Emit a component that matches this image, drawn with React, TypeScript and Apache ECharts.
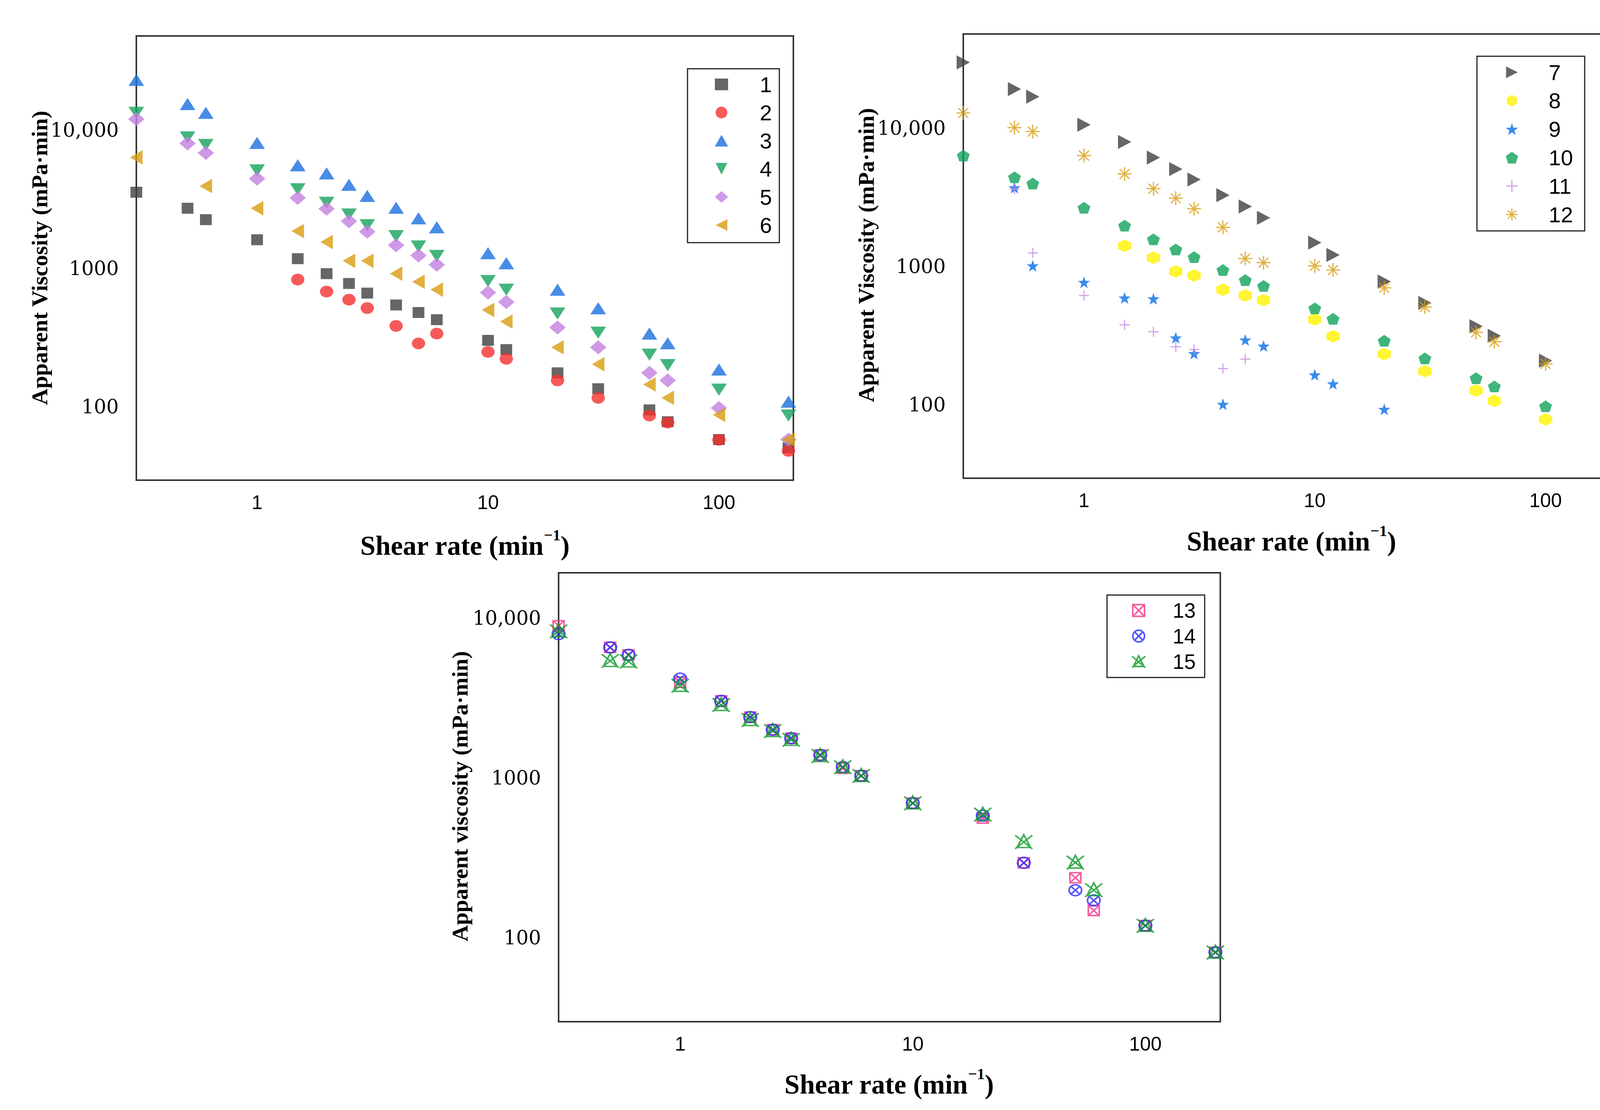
import { useEffect, useRef } from "react";
import * as echarts from "echarts";

// shear rates (min^-1) used in the top two panels
const SHEAR = [0.3, 0.5, 0.6, 1, 1.5, 2, 2.5, 3, 4, 5, 6, 10, 12, 20, 30, 50, 60, 100, 200];
// bottom panel has no 12 min^-1 point
const SHEAR_C = [0.3, 0.5, 0.6, 1, 1.5, 2, 2.5, 3, 4, 5, 6, 10, 20, 30, 50, 60, 100, 200];

// panel A, samples 1-6 (mPa·min)
const A1 = [3550, 2720, 2250, 1610, 1175, 916, 778, 663, 544, 480, 426, 302, 259, 176, 135, 95, 78, 58, 50.5];
const A2 = [null, null, null, null, 830, 680, 594, 517, 384, 287, 338, 249, 222, 155, 116, 86.5, 77, 57.7, 48];
const A3 = [23000, 15400, 13300, 8070, 5560, 4860, 4020, 3340, 2740, 2300, 1982, 1288, 1089, 701, 515, 338, 288, 186, 109];
const A4 = [13300, 8830, 7800, 5110, 3730, 2980, 2450, 2050, 1710, 1440, 1231, 811, 701, 472, 343, 238, 200, 133, 86.5];
const A5 = [12000, 8000, 6820, 4450, 3230, 2700, 2190, 1840, 1470, 1240, 1064, 669, 572, 374, 269, 176, 155, 98, 58];
const A6 = [6330, null, 3930, 2720, 1860, 1550, 1135, 1135, 916, 801, 701, 500, 413, 269, 203, 145, 116, 87.5, 58];

// panel B, samples 7-12
const B7 = [29900, 19200, 16900, 10600, 7960, 6140, 5070, 4260, 3280, 2720, 2250, 1490, 1213, 780, 546, 370, 316, 209, 97.7];
const B8 = [null, null, null, null, 1412, 1159, 922, 862, 680, 618, 572, 415, 313, 233, 175, 127, 107, 78.5, 49];
const B9 = [null, 3720, 1012, 769, 593, 585, 305, 235, 101, 295, 266, 165, 142, 93, null, null, null, null, null];
const B10 = [6340, 4420, 3980, 2660, 1977, 1574, 1330, 1170, 944, 798, 725, 499, 419, 291, 217, 156, 136, 97.7, 69];
const B11 = [null, 3630, 1253, 618, 379, 338, 263, 251, 183, 214, null, null, null, null, null, null, null, null, null];
const B12 = [12900, 10100, 9460, 6340, 4670, 3660, 3120, 2620, 1920, 1142, 1068, 1012, 944, 702, 510, 334, 286, 198, 185];

// panel C, samples 13-15
const C13 = [8950, 6550, 5880, 3960, 3030, 2400, 2000, 1770, 1390, 1148, 1031, 695, 560, 294, 237, 148, 119, 81];
const C14 = [7930, 6550, 5880, 4180, 3030, 2400, 2000, 1770, 1390, 1170, 1031, 695, 580, 294, 198, 171, 119, 81];
const C15 = [8280, 5410, 5370, 3780, 2870, 2310, 1970, 1735, 1375, 1170, 1031, 695, 591, 398, 296, 199, 119, 81];

// triangles drawn in their final orientation, so legend icons match too
const TRI_DOWN = "path://M0,0 L100,0 L50,100 Z";
const TRI_LEFT = "path://M100,0 L100,100 L0,50 Z";
const TRI_RIGHT = "path://M0,0 L0,100 L100,50 Z";
const HEXAGON = "path://M50,0 L93,25 L93,75 L50,100 L7,75 L7,25 Z";
const STAR = "path://M50,0 L61.8,33.8 L97.6,34.5 L69,56.2 L79.4,90.5 L50,70 L20.6,90.5 L31,56.2 L2.4,34.5 L38.2,33.8 Z";
const PENTAGON = "path://M50,0 L97.6,34.5 L79.4,90.5 L20.6,90.5 L2.4,34.5 Z";
const PLUS = "path://M50,0 L50,100 M0,50 L100,50";
const ASTERISK = "path://M50,0 L50,100 M0,50 L100,50 M15,15 L85,85 M85,15 L15,85";
const BOX_X = "path://M0,0 L100,0 L100,100 L0,100 Z M0,0 L100,100 M100,0 L0,100";
const CIRCLE_X = "path://M0,50 A50,50 0 1,1 100,50 A50,50 0 1,1 0,50 Z M15,15 L85,85 M85,15 L15,85";
const TRI_X = "path://M50,12 L90,92 L10,92 Z M0,15 L100,100 M100,15 L0,100";

const SERIF = "'Liberation Serif', 'Times New Roman', serif";
const SANS = "'Liberation Sans', Arial, sans-serif";

function pairs(xs: number[], ys: (number | null)[]) {
  const out: number[][] = [];
  xs.forEach((x, i) => {
    const y = ys[i];
    if (y != null) out.push([x, y]);
  });
  return out;
}

function yLabel(v: number) {
  if (Math.abs(v - 10000) < 1) return "10,000";
  if (Math.abs(v - 1000) < 0.1) return "1000";
  if (Math.abs(v - 100) < 0.01) return "100";
  return "";
}

function xLabel(v: number) {
  if (Math.abs(v - 1) < 1e-6) return "1";
  if (Math.abs(v - 10) < 1e-5) return "10";
  if (Math.abs(v - 100) < 1e-4) return "100";
  return "";
}

type Spec = {
  name: string;
  idx: number;
  xs: number[];
  ys: (number | null)[];
  symbol: string;
  size: number | number[];
  color: string;
  stroke?: number;
};

const SPECS: Spec[] = [
  { name: "1", idx: 0, xs: SHEAR, ys: A1, symbol: "rect", size: [30, 28], color: "#404040" },
  { name: "2", idx: 0, xs: SHEAR, ys: A2, symbol: "circle", size: [34, 30], color: "#f5302f" },
  { name: "3", idx: 0, xs: SHEAR, ys: A3, symbol: "triangle", size: [40, 31], color: "#1a6fe0" },
  { name: "4", idx: 0, xs: SHEAR, ys: A4, symbol: TRI_DOWN, size: [40, 31], color: "#13a35c" },
  { name: "5", idx: 0, xs: SHEAR, ys: A5, symbol: "diamond", size: [42, 36], color: "#c480e0" },
  { name: "6", idx: 0, xs: SHEAR, ys: A6, symbol: TRI_LEFT, size: [32, 37], color: "#d99c10" },
  { name: "7", idx: 1, xs: SHEAR, ys: B7, symbol: TRI_RIGHT, size: [34, 36], color: "#404040" },
  { name: "8", idx: 1, xs: SHEAR, ys: B8, symbol: HEXAGON, size: [34, 32], color: "#fff200" },
  { name: "9", idx: 1, xs: SHEAR, ys: B9, symbol: STAR, size: [31, 30], color: "#0a6ee6" },
  { name: "10", idx: 1, xs: SHEAR, ys: B10, symbol: PENTAGON, size: [33, 30], color: "#10a35a" },
  { name: "11", idx: 1, xs: SHEAR, ys: B11, symbol: PLUS, size: [26, 26], color: "#c98be6", stroke: 3 },
  { name: "12", idx: 1, xs: SHEAR, ys: B12, symbol: ASTERISK, size: [36, 36], color: "#d99c10", stroke: 3 },
  { name: "13", idx: 2, xs: SHEAR_C, ys: C13, symbol: BOX_X, size: [28, 26], color: "#f5358a", stroke: 4 },
  { name: "14", idx: 2, xs: SHEAR_C, ys: C14, symbol: CIRCLE_X, size: [32, 28], color: "#2b2bff", stroke: 4 },
  { name: "15", idx: 2, xs: SHEAR_C, ys: C15, symbol: TRI_X, size: [44, 36], color: "#0e9a2c", stroke: 4 },
];

const GRIDS = [
  { left: 349, top: 92, width: 1682, height: 1137 },
  { left: 2466, top: 87, width: 1681, height: 1137 },
  { left: 1430, top: 1466, width: 1694, height: 1149 },
];
const Y_MAX = [47800, 48000, 19200];
const Y_MIN = [29.5, 29.5, 29.8];

const Y_TITLES = ["Apparent Viscosity (mPa·min)", "Apparent Viscosity (mPa·min)", "Apparent viscosity (mPa·min)"];
const Y_TITLE_POS = [[101, 660], [2217, 653], [1177, 2038]];
const X_TITLE_POS = [[1190, 1390], [3306, 1379], [2276, 2769]];

export default function App() {
  const ref = useRef<HTMLDivElement>(null);

  useEffect(() => {
    if (!ref.current) return;
    const chart = echarts.init(ref.current, undefined, { renderer: "svg" });

    const xAxis = GRIDS.map((_, i) => ({
      type: "log",
      gridIndex: i,
      min: 0.3,
      max: 210,
      axisLine: { show: false },
      axisTick: { show: false },
      splitLine: { show: false },
      axisLabel: {
        margin: 32,
        fontFamily: SANS,
        fontSize: 50,
        color: "#000",
        formatter: xLabel,
      },
    }));

    const yAxis = GRIDS.map((_, i) => ({
      type: "log",
      gridIndex: i,
      min: Y_MIN[i],
      max: Y_MAX[i],
      axisLine: { show: false },
      axisTick: { show: false },
      splitLine: { show: false },
      axisLabel: {
        margin: 45,
        fontFamily: "'DejaVu Serif', serif",
        fontSize: 50,
        color: "#000",
        formatter: yLabel,
      },
    }));

    const series = SPECS.map((s) => ({
      type: "scatter",
      name: s.name,
      xAxisIndex: s.idx,
      yAxisIndex: s.idx,
      data: pairs(s.xs, s.ys),
      symbol: s.symbol,
      symbolSize: s.size,
      clip: false,
      itemStyle: s.stroke
        ? { color: "rgba(0,0,0,0)", borderColor: s.color, borderWidth: s.stroke }
        : { color: s.color },
    }));

    const legendData = (i: number) =>
      SPECS.filter((s) => s.idx === i).map((s) => ({
        name: s.name,
        itemStyle: s.stroke
          ? { color: "rgba(0,0,0,0)", borderColor: s.color, borderWidth: s.stroke }
          : { color: s.color, borderWidth: 0 },
      }));

    const legendBase = {
      orient: "vertical",
      selectedMode: false,
      borderColor: "#222",
      borderWidth: 3,
      backgroundColor: "#fff",
      itemWidth: 34,
      itemHeight: 30,
    };

    const legend = [
      {
        ...legendBase,
        data: legendData(0),
        left: 1760,
        top: 176,
        padding: [12, 19, 17, 70],
        itemGap: 16,
        textStyle: { fontFamily: SANS, fontSize: 56, lineHeight: 56, color: "#000", padding: [0, 0, 0, 76] },
      },
      {
        ...legendBase,
        data: legendData(1),
        left: 3781,
        top: 144,
        padding: [13, 30, 14, 73],
        itemGap: 16.8,
        textStyle: { fontFamily: SANS, fontSize: 56, lineHeight: 56, color: "#000", padding: [0, 0, 0, 72] },
      },
      {
        ...legendBase,
        data: legendData(2),
        left: 2834,
        top: 1523,
        padding: [13, 23, 14, 62],
        itemGap: 12.5,
        textStyle: { fontFamily: SANS, fontSize: 53, lineHeight: 52, color: "#000", padding: [0, 0, 0, 65] },
      },
    ];

    const titleFont = { fontFamily: SERIF, fontWeight: "bold", fill: "#000" };
    const graphic: any[] = [];
    X_TITLE_POS.forEach(([x, y]) => {
      graphic.push({
        type: "text",
        x,
        y,
        style: {
          text: "{m|Shear rate (min}{s|−1}{m|)}",
          align: "center",
          verticalAlign: "middle",
          fill: "#000",
          rich: {
            m: { ...titleFont, fontSize: 70, verticalAlign: "bottom" },
            s: { ...titleFont, fontSize: 40, verticalAlign: "top", padding: [0, 0, 42, 0] },
          },
        },
      });
    });
    Y_TITLE_POS.forEach(([x, y], i) => {
      graphic.push({
        type: "text",
        x,
        y,
        rotation: Math.PI / 2,
        style: {
          ...titleFont,
          text: Y_TITLES[i],
          fontSize: 58,
          align: "center",
          verticalAlign: "middle",
        },
      });
    });

    chart.setOption({
      animation: false,
      backgroundColor: "#fff",
      grid: GRIDS.map((g) => ({
        ...g,
        show: true,
        borderColor: "#333",
        borderWidth: 4,
        backgroundColor: "rgba(0,0,0,0)",
      })),
      xAxis,
      yAxis,
      legend,
      series,
      graphic,
    });

    return () => {
      chart.dispose();
    };
  }, []);

  return (
    <div
      ref={ref}
      style={{ position: "absolute", left: 0, top: 0, width: 4224, height: 2841 }}
    />
  );
}
